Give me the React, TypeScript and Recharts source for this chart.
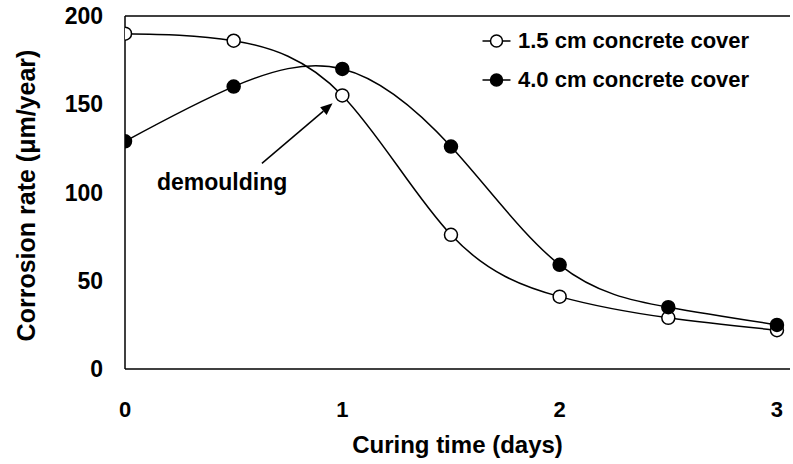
import React from "react";
import {
  LineChart,
  Line,
  XAxis,
  YAxis,
  ReferenceLine,
  ReferenceDot,
  Legend,
  Label,
} from "recharts";

const curingDays = [0, 0.5, 1, 1.5, 2, 2.5, 3];
const cover15 = [190, 186, 155, 76, 41, 29, 22];
const cover40 = [129, 160, 170, 126, 59, 35, 25];
const xTicks = [0, 1, 2, 3];
const yTicks = [0, 50, 100, 150, 200];

const data = curingDays.map((d, i) => ({
  day: d,
  c15: cover15[i],
  c40: cover40[i],
}));

const FONT = "'Liberation Sans', Arial, Helvetica, sans-serif";

const LegendContent = (props: any) => {
  const { payload } = props;
  return (
    <div style={{ fontFamily: FONT, fontWeight: 700, fontSize: 22, color: "#000" }}>
      {(payload || []).map((p: any, i: number) => (
        <div key={i} style={{ display: "flex", alignItems: "center", height: 39 }}>
          <svg width={29} height={16} style={{ marginRight: 7 }}>
            <line x1={0.5} y1={8} x2={28.5} y2={8} stroke="#000" strokeWidth={1.5} />
            <circle
              cx={14.5}
              cy={8}
              r={6}
              fill={p.dataKey === "c15" ? "#fff" : "#000"}
              stroke="#000"
              strokeWidth={1.5}
            />
          </svg>
          <span>{p.value}</span>
        </div>
      ))}
    </div>
  );
};

const ArrowShape = (props: any) => {
  const { x1, y1, x2, y2 } = props;
  if ([x1, y1, x2, y2].some((v) => typeof v !== "number")) return <g />;
  const ang = Math.atan2(y2 - y1, x2 - x1);
  const len = 12;
  const w = 5;
  const bx = x2 - len * Math.cos(ang);
  const by = y2 - len * Math.sin(ang);
  const px = -Math.sin(ang) * w;
  const py = Math.cos(ang) * w;
  return (
    <g>
      <line x1={x1} y1={y1} x2={bx} y2={by} stroke="#000" strokeWidth={1.5} />
      <polygon
        points={`${x2},${y2} ${bx + px},${by + py} ${bx - px},${by - py}`}
        fill="#000"
      />
    </g>
  );
};

const YTitle = (props: any) => {
  const vb = props.viewBox || { x: 0, y: 0, width: 0, height: 0 };
  const cx = vb.x + 26;
  const cy = vb.y + vb.height / 2 + 3;
  return (
    <text
      x={cx}
      y={cy}
      transform={`rotate(-90, ${cx}, ${cy})`}
      textAnchor="middle"
      dominantBaseline="central"
      fontFamily={FONT}
      fontWeight={700}
      fontSize={25}
      fill="#000"
    >
      Corrosion rate (μm/year)
    </text>
  );
};

export default function App() {
  return (
    <div style={{ position: "absolute", left: 0, top: 0, background: "#fff" }}>
      <LineChart
        width={793}
        height={464}
        data={data}
        margin={{ top: 16, right: 3, left: 0, bottom: 0 }}
      >
        <XAxis
          dataKey="day"
          type="number"
          domain={[0, 3.06]}
          ticks={xTicks}
          allowDataOverflow
          height={95}
          axisLine={{ stroke: "#000", strokeWidth: 1.5 }}
          tickLine={false}
          tickSize={6}
          tickMargin={26}
          tick={{ fill: "#000", fontFamily: FONT, fontWeight: 700, fontSize: 22 }}
        >
          <Label
            value="Curing time (days)"
            position="insideBottom"
            offset={11}
            style={{ fontFamily: FONT, fontWeight: 700, fontSize: 24, fill: "#000" }}
          />
        </XAxis>
        <YAxis
          type="number"
          domain={[0, 200]}
          ticks={yTicks}
          width={125}
          axisLine={{ stroke: "#000", strokeWidth: 1.5 }}
          tickLine={false}
          tickSize={6}
          tickMargin={16}
          tick={{ fill: "#000", fontFamily: FONT, fontWeight: 700, fontSize: 23 }}
        >
          <Label content={<YTitle />} />
        </YAxis>
        <ReferenceLine y={200} stroke="#000" strokeWidth={1.5} />
        <ReferenceLine
          segment={[
            { x: 0.63, y: 116.5 },
            { x: 0.955, y: 150.5 },
          ]}
          shape={<ArrowShape />}
        />
        <ReferenceDot
          x={0.447}
          y={106}
          r={0}
          fill="none"
          stroke="none"
          label={{
            value: "demoulding",
            position: "center",
            style: { fontFamily: FONT, fontWeight: 700, fontSize: 23, fill: "#000" },
          }}
        />
        <Legend
          layout="horizontal"
          verticalAlign="middle"
          align="center"
          content={<LegendContent />}
          wrapperStyle={{ position: "absolute", left: 482, top: 21, width: 300, height: 80 }}
        />
        <Line
          name="1.5 cm concrete cover"
          dataKey="c15"
          type="natural"
          stroke="#000"
          strokeWidth={1.5}
          dot={{ r: 6.5, fill: "#fff", stroke: "#000", strokeWidth: 1.5 }}
          isAnimationActive={false}
        />
        <Line
          name="4.0 cm concrete cover"
          dataKey="c40"
          type="natural"
          stroke="#000"
          strokeWidth={1.5}
          dot={{ r: 6.5, fill: "#000", stroke: "#000", strokeWidth: 1.5 }}
          isAnimationActive={false}
        />
      </LineChart>
    </div>
  );
}
